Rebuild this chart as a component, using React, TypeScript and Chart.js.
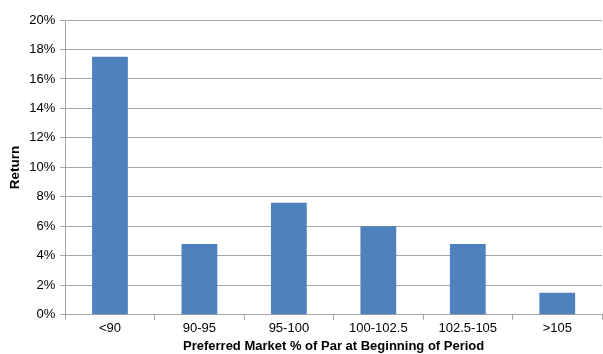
import React, { useEffect, useRef } from "react";
import { Chart, registerables } from "chart.js";

Chart.register(...registerables);

const categories = ["<90", "90-95", "95-100", "100-102.5", "102.5-105", ">105"];
const returns = [17.5, 4.8, 7.6, 6.0, 4.8, 1.5];
const yTicks = [0, 2, 4, 6, 8, 10, 12, 14, 16, 18, 20];

export default function App() {
  const ref = useRef<HTMLCanvasElement>(null);
  useEffect(() => {
    document.body.style.margin = "0";
    const ctx = ref.current!;
    const chart = new Chart(ctx, {
      type: "bar",
      data: {
        labels: categories,
        datasets: [
          {
            data: returns,
            backgroundColor: "#4F81BD",
            borderWidth: 0,
            categoryPercentage: 1,
            barPercentage: 0.4,
          },
        ],
      },
      options: {
        animation: false,
        responsive: false,
        layout: { padding: { top: 20, right: 1, left: 7, bottom: 0 } },
        plugins: { legend: { display: false }, tooltip: { enabled: false } },
        scales: {
          x: {
            offset: true,
            grid: {
              display: true,
              offset: true,
              drawOnChartArea: false,
              drawTicks: true,
              tickLength: 5,
              color: "#A6A6A6",
            },
            border: { color: "#A6A6A6" },
            ticks: {
              color: "#000",
              font: { family: "Liberation Sans", size: 13 },
              padding: 1,
            },
            title: {
              display: true,
              text: "Preferred Market % of Par at Beginning of Period",
              color: "#000",
              font: { family: "Liberation Sans", size: 13, weight: "bold" },
              padding: { top: 1, bottom: 0 },
            },
          },
          y: {
            min: 0,
            max: 20,
            afterBuildTicks: (axis: any) => {
              axis.ticks = yTicks.map((v) => ({ value: v }));
            },
            grid: { color: "#A6A6A6", tickLength: 5 },
            border: { color: "#A6A6A6" },
            ticks: {
              color: "#000",
              font: { family: "Liberation Sans", size: 13 },
              padding: 5,
              callback: (v: any) => v + "%",
            },
            title: {
              display: true,
              text: "Return",
              color: "#000",
              font: { family: "Liberation Sans", size: 13.5, weight: "bold" },
              padding: { top: 0, bottom: 1 },
            },
          },
        },
      },
    });
    return () => chart.destroy();
  }, []);
  return (
    <div style={{ width: 603, height: 354 }}>
      <canvas ref={ref} width={603} height={354} style={{ display: "block" }} />
    </div>
  );
}
